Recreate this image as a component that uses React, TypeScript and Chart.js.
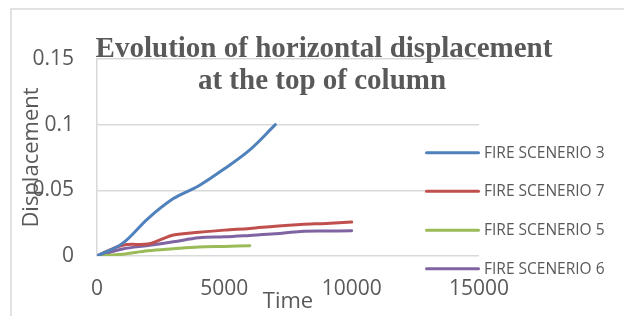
import React, { useEffect, useRef } from "react";
import { Chart, registerables } from "chart.js";

Chart.register(...registerables);

const TITLE_LINES = ["Evolution of horizontal displacement", "at the top of column"];
const X_TITLE = "Time";
const Y_TITLE = "Displacement";

const X_TICKS = [0, 5000, 10000, 15000];
const X_TICK_LABELS = ["0", "5000", "10000", "15000"];
const Y_TICKS = [0, 0.05, 0.1, 0.15];
const Y_TICK_LABELS = ["0", "0.05", "0.1", "0.15"];

const SERIES_NAMES = ["FIRE SCENERIO 3", "FIRE SCENERIO 7", "FIRE SCENERIO 5", "FIRE SCENERIO 6"];
const SERIES_COLORS = ["#4F81BD", "#C0504D", "#9BBB59", "#8064A2"];

const TIME_S3 = [0, 1000, 2000, 3000, 4000, 5000, 6000, 7000];
const DISP_S3 = [0, 0.0096, 0.0285, 0.0437, 0.0535, 0.0664, 0.0808, 0.1];

const TIME_S7 = [0, 1000, 2000, 2500, 3000, 4000, 5000, 6000, 7000, 8000, 9000, 10000];
const DISP_S7 = [0, 0.0082, 0.0091, 0.0125, 0.016, 0.018, 0.0197, 0.021, 0.0227, 0.024, 0.0248, 0.0258];

const TIME_S5 = [0, 1000, 2000, 3000, 4000, 5000, 6000];
const DISP_S5 = [0, 0.0014, 0.004, 0.0055, 0.0068, 0.0073, 0.0078];

const TIME_S6 = [0, 1000, 2000, 3000, 4000, 5000, 6000, 7000, 8000, 9000, 10000];
const DISP_S6 = [0, 0.0053, 0.008, 0.0108, 0.0139, 0.0146, 0.0157, 0.0169, 0.0187, 0.019, 0.0192];

const SERIES_TIMES = [TIME_S3, TIME_S7, TIME_S5, TIME_S6];
const SERIES_DISP = [DISP_S3, DISP_S7, DISP_S5, DISP_S6];

const TEXT_COLOR = "#595959";
const GRID_COLOR = "#D9D9D9";
const SANS = "'Open Sans', sans-serif";

const decorPlugin = {
  id: "decor",
  beforeDraw(chart: any) {
    const ctx = chart.ctx;
    ctx.save();
    ctx.fillStyle = "#ffffff";
    ctx.fillRect(0, 0, chart.width, chart.height);
    ctx.strokeStyle = GRID_COLOR;
    ctx.lineWidth = 1.5;
    ctx.beginPath();
    ctx.moveTo(11, chart.height);
    ctx.lineTo(11, 9);
    ctx.lineTo(chart.width, 9);
    ctx.stroke();
    ctx.restore();
  },
  afterDraw(chart: any) {
    const ctx = chart.ctx;
    const area = chart.chartArea;
    ctx.save();
    // chart title
    ctx.fillStyle = TEXT_COLOR;
    ctx.font = "bold 29px 'Liberation Serif', 'Times New Roman', serif";
    ctx.textAlign = "center";
    ctx.textBaseline = "alphabetic";
    ctx.fillText(TITLE_LINES[0], 324, 56.5);
    ctx.fillText(TITLE_LINES[1], 322, 88.5);

    // axis titles
    ctx.font = "22px " + SANS;
    ctx.textBaseline = "middle";
    ctx.fillText(X_TITLE, (area.left + area.right) / 2, 302);
    ctx.save();
    ctx.translate(31.5, (area.top + area.bottom) / 2);
    ctx.rotate(-Math.PI / 2);
    ctx.fillText(Y_TITLE, 0, 0);
    ctx.restore();

    // legend
    ctx.font = "15.5px " + SANS;
    ctx.textAlign = "left";
    const ys = [152.7, 191.3, 230.2, 268.7];
    chart.data.datasets.forEach((ds: any, i: number) => {
      const y = ys[i];
      ctx.strokeStyle = ds.borderColor;
      ctx.lineWidth = 3;
      ctx.lineCap = "round";
      ctx.beginPath();
      ctx.moveTo(426.5, y);
      ctx.lineTo(478.5, y);
      ctx.stroke();
      ctx.fillStyle = TEXT_COLOR;
      ctx.fillText(ds.label, 484, y + 0.5);
    });
    ctx.restore();
  },
};

export default function App() {
  const ref = useRef<HTMLCanvasElement>(null);

  useEffect(() => {
    if (!ref.current) return;
    const datasets = SERIES_NAMES.map((name, i) => ({
      label: name,
      data: SERIES_TIMES[i].map((t, j) => ({ x: t, y: SERIES_DISP[i][j] })),
      borderColor: SERIES_COLORS[i],
      backgroundColor: SERIES_COLORS[i],
      borderWidth: 3,
      pointRadius: 0,
      tension: 0.35,
      fill: false,
      borderCapStyle: "round" as const,
    }));

    const chart = new Chart(ref.current, {
      type: "line",
      data: { datasets },
      options: {
        animation: false,
        responsive: false,
        maintainAspectRatio: false,
        layout: { padding: { left: 0, top: 59, right: 145, bottom: 0 } },
        plugins: {
          legend: { display: false },
          title: { display: false },
          tooltip: { enabled: false },
        },
        scales: {
          x: {
            type: "linear",
            min: 0,
            max: 15000,
            afterBuildTicks: (scale: any) => {
              scale.ticks = X_TICKS.map((v) => ({ value: v }));
            },
            afterFit: (scale: any) => {
              scale.height = 60;
            },
            ticks: {
              autoSkip: false,
              maxRotation: 0,
              padding: 20,
              color: TEXT_COLOR,
              font: { family: "'Open Sans', sans-serif", size: 21 },
              callback: (_v: any, i: number) => X_TICK_LABELS[i],
            },
            grid: { display: false, drawTicks: false },
            border: { display: false },
          },
          y: {
            type: "linear",
            min: 0,
            max: 0.15,
            afterBuildTicks: (scale: any) => {
              scale.ticks = Y_TICKS.map((v) => ({ value: v }));
            },
            afterFit: (scale: any) => {
              scale.width = 97;
            },
            ticks: {
              autoSkip: false,
              padding: 23,
              color: TEXT_COLOR,
              font: { family: "'Open Sans', sans-serif", size: 21 },
              callback: (_v: any, i: number) => Y_TICK_LABELS[i],
            },
            grid: { color: GRID_COLOR, lineWidth: 1.5, drawTicks: false },
            border: { display: true, color: GRID_COLOR, width: 1.5 },
          },
        },
      },
      plugins: [decorPlugin],
    });
    return () => chart.destroy();
  }, []);

  return (
    <div style={{ position: "absolute", left: 0, top: 0, width: 624, height: 316 }}>
      <canvas ref={ref} width={624} height={316} style={{ display: "block" }} />
    </div>
  );
}
